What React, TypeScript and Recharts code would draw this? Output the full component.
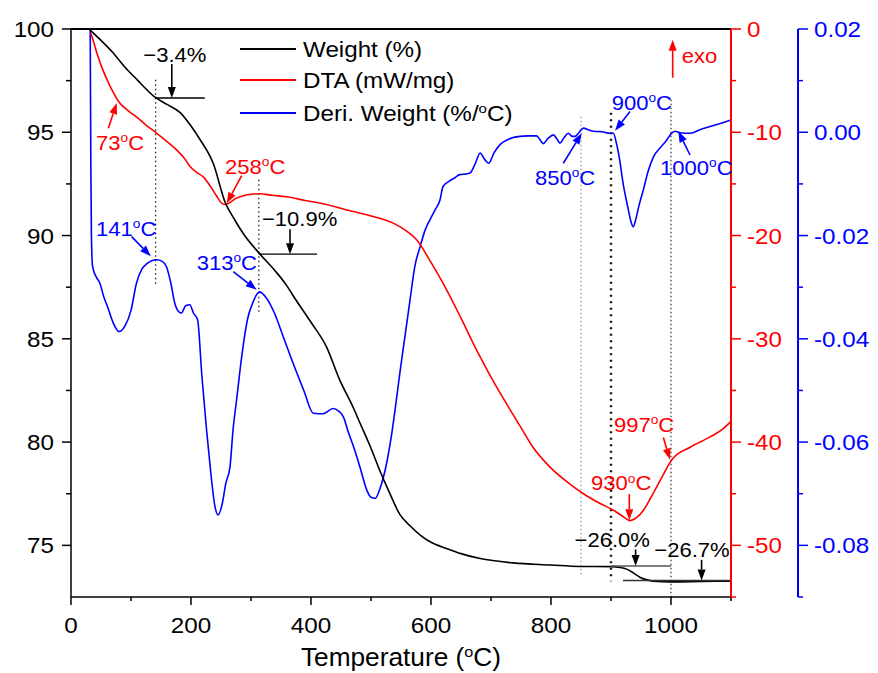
import React from 'react';
import { LineChart, Line, XAxis, YAxis, ReferenceLine, ReferenceDot, Legend, Label } from 'recharts';

// weight (%) – black curve, left axis
const tempW = [30, 50, 70, 90, 110, 140, 160, 182, 200, 215, 237, 257, 272, 287, 315, 340, 359, 370, 400, 426, 448, 470, 482, 500, 515, 530, 548, 565, 582, 600, 626, 650, 682, 737, 800, 848, 900, 915, 926, 937, 948, 960, 970, 1000, 1050, 1100];
const weight = [100.0, 99.45, 98.85, 98.15, 97.55, 96.7, 96.35, 95.95, 95.3, 94.65, 93.5, 91.6, 90.8, 90.1, 89.1, 88.3, 87.6, 87.1, 85.8, 84.6, 83.0, 81.7, 80.9, 79.7, 78.6, 77.6, 76.5, 75.95, 75.5, 75.15, 74.85, 74.6, 74.36, 74.15, 74.05, 73.98, 73.97, 73.93, 73.85, 73.67, 73.46, 73.33, 73.27, 73.23, 73.25, 73.27];

// DTA (mW/mg) – red curve, first right axis
const tempD = [33, 38, 43, 50, 60, 70, 79, 95, 109, 125, 143, 160, 176, 190, 198, 210, 220, 232, 243, 250, 257, 265, 275, 287, 300, 315, 335, 359, 390, 426, 465, 500, 537, 560, 576, 600, 620, 650, 676, 700, 726, 750, 770, 798, 830, 854, 882, 904, 920, 932, 943, 954, 968, 982, 1003, 1032, 1065, 1085, 1100];
const dta = [-0.4, -1.3, -2.3, -3.5, -4.9, -6.1, -7.0, -7.9, -8.5, -9.3, -10.1, -10.9, -11.7, -12.6, -13.3, -13.9, -14.3, -15.2, -16.2, -16.8, -17.0, -16.8, -16.4, -16.15, -16.0, -15.95, -16.1, -16.25, -16.6, -17.0, -17.6, -18.1, -18.8, -19.6, -20.4, -22.6, -24.6, -28.0, -31.1, -33.7, -36.3, -38.6, -40.5, -42.4, -44.0, -45.0, -45.95, -46.6, -47.2, -47.6, -47.3, -46.6, -45.2, -43.7, -41.6, -40.5, -39.5, -38.8, -38.0];

// derivative weight (%/°C) – blue curve, outer right axis
const tempB = [32, 33, 34, 36, 42, 48, 55, 60, 70, 80, 90, 100, 109, 118, 126, 143, 152, 159, 166, 173, 180, 184, 191, 198, 204, 211, 218, 226, 232, 240, 245, 252, 258, 265, 270, 276, 285, 294, 303, 314, 325, 339, 355, 370, 388, 404, 420, 437, 446, 454, 462, 471, 482, 493, 500, 507, 515, 526, 535, 543, 548, 556, 565, 573, 582, 590, 598, 607, 615, 620, 630, 640, 648, 657, 665, 674, 682, 689, 696, 705, 715, 730, 748, 762, 776, 782, 787, 795, 804, 810, 815, 822, 829, 835, 840, 847, 854, 862, 871, 885, 898, 904, 909, 914, 920, 928, 933, 937, 941, 946, 954, 962, 971, 982, 993, 1000, 1007, 1015, 1032, 1050, 1065, 1085, 1100];
const deriv = [0.02, -0.005, -0.02, -0.026, -0.028, -0.0292, -0.032, -0.0335, -0.0368, -0.0386, -0.0375, -0.0345, -0.0293, -0.0265, -0.0255, -0.0247, -0.025, -0.026, -0.029, -0.0331, -0.0348, -0.035, -0.0336, -0.0334, -0.035, -0.0363, -0.047, -0.0577, -0.0648, -0.0725, -0.0741, -0.072, -0.068, -0.0648, -0.0577, -0.0518, -0.043, -0.0363, -0.033, -0.0309, -0.032, -0.035, -0.040, -0.0447, -0.050, -0.0544, -0.0545, -0.0535, -0.054, -0.0551, -0.058, -0.0609, -0.065, -0.0693, -0.0707, -0.0709, -0.069, -0.0641, -0.058, -0.0512, -0.0467, -0.040, -0.0325, -0.026, -0.0221, -0.019, -0.017, -0.015, -0.0131, -0.0105, -0.0095, -0.0088, -0.0082, -0.0081, -0.0079, -0.006, -0.004, -0.0052, -0.006, -0.004, -0.0024, -0.0013, -0.0008, -0.0007, -0.0007, -0.0015, -0.0022, -0.0012, -0.0005, -0.0013, -0.0021, -0.001, -0.0002, -0.0008, -0.0008, 0.0, 0.0008, 0.0005, 0.0002, 0.0001, -0.0002, -0.0002, -0.0021, -0.005, -0.0098, -0.0145, -0.0172, -0.0183, -0.017, -0.0145, -0.0111, -0.0075, -0.0047, -0.003, -0.0015, -0.0003, 0.0002, -0.0001, -0.0002, 0.0006, 0.0011, 0.0018, 0.0024];

const seriesNames = ['Weight (%)', 'DTA (mW/mg)', 'Deri. Weight (%/'];

const xTicks = [0, 100, 200, 300, 400, 500, 600, 700, 800, 900, 1000, 1100];
const xMajor = [0, 200, 400, 600, 800, 1000];
const wTicks = [75, 77.5, 80, 82.5, 85, 87.5, 90, 92.5, 95, 97.5, 100];
const wMajor = [75, 80, 85, 90, 95, 100];
const dTicks = [-55, -50, -45, -40, -35, -30, -25, -20, -15, -10, -5, 0];
const dMajor = [-50, -40, -30, -20, -10, 0];
const bTicks = [-0.09, -0.08, -0.07, -0.06, -0.05, -0.04, -0.03, -0.02, -0.01, 0, 0.01, 0.02];
const bMajor = [-0.08, -0.06, -0.04, -0.02, 0, 0.02];

// weight-loss steps: level line, arrow and label (weight axis)
const steps = [
  { label: '−3.4%', level: 96.66, from: 140, to: 223, arrowT: 168, arrowTop: 98.3, textT: 173, textW: 98.4, color: '#000' },
  { label: '−10.9%', level: 89.1, from: 313, to: 410, arrowT: 365, arrowTop: 90.3, textT: 381, textW: 90.47, color: '#000' },
  { label: '−26.0%', level: 74.0, from: 900, to: 1000, arrowT: 941, arrowTop: 74.8, textT: 902, textW: 74.9, color: '#555' },
  { label: '−26.7%', level: 73.3, from: 920, to: 1100, arrowT: 1051, arrowTop: 74.3, textT: 1035, textW: 74.44, color: '#333' },
];

// dotted guides (weight axis)
const guides = [
  { t: 141, top: 97.54, bottom: 87.6, color: '#222', width: 1.3, dash: '1.5 3' },
  { t: 313, top: 92.7, bottom: 86.25, color: '#222', width: 1.3, dash: '1.5 3' },
  { t: 850, top: 95.75, bottom: 73.55, color: '#999', width: 1.2, dash: '1.5 2.5' },
  { t: 900, top: 95.94, bottom: 73.26, color: '#111', width: 2.4, dash: '2 4.5' },
  { t: 1000, top: 96.57, bottom: 72.5, color: '#333', width: 1.2, dash: '1.5 2.5' },
];

const redMarks = [
  { label: '73', textT: 41.7, textV: -11.7, fromT: 62.2, fromV: -9.6, toT: 76.2, toV: -7.17 },
  { label: '258', textT: 256.7, textV: -14.03, fromT: 284.5, fromV: -14.2, toT: 259.5, toV: -16.87 },
  { label: '930', textT: 866.7, textV: -44.66, fromT: 930.5, fromV: -45.05, toT: 930.5, toV: -47.57 },
  { label: '997', textT: 905, textV: -39.01, fromT: 987.2, fromV: -39.55, toT: 998.3, toV: -41.69 },
];

const blueMarks = [
  { label: '141', textT: 41.7, textV: -0.02, fromT: 101, fromV: -0.0202, toT: 133, toV: -0.024 },
  { label: '313', textT: 209.5, textV: -0.0266, fromT: 270.5, fromV: -0.027, toT: 309.5, toV: -0.0305 },
  { label: '850', textT: 773.3, textV: -0.0102, fromT: 820.5, fromV: -0.006, toT: 851.2, toV: -0.0002 },
  { label: '900', textT: 901.2, textV: 0.0044, fromT: 931.7, fromV: 0.004, toT: 906.7, toV: 0.0003 },
  { label: '1000', textT: 981.7, textV: -0.0082, fromT: 1031.7, fromV: -0.0044, toT: 1012.2, toV: 0.0002 },
];

const weightData = tempW.map((t, i) => ({ t, v: weight[i] }));
const dtaData = tempD.map((t, i) => ({ t, v: dta[i] }));
const derivData = tempB.map((t, i) => ({ t, v: deriv[i] }));

const FONT = '"Liberation Sans", Arial, Helvetica, sans-serif';
const RED = '#ff0000';
const BLUE = '#0000ff';
const AX_W = 'w';
const AX_D = 'a_dta';
const AX_B = 'b_deriv';

type TxtProps = { x: number; y: number; size: number; fill?: string; anchor?: 'start' | 'middle' | 'end'; sx?: number; children: React.ReactNode };

// the source font is a bit wider than Arial, so stretch it slightly
const Txt = ({ x, y, size, fill = '#000', anchor = 'start', sx = 1.1, children }: TxtProps) => (
  <text transform={`translate(${x},${y}) scale(${sx},1)`} x={0} y={0} fontSize={size} fontFamily={FONT} fill={fill} textAnchor={anchor}>
    {children}
  </text>
);

const deg = (pre: string, post: string, size: number) => [
  <tspan key="a">{pre}</tspan>,
  <tspan key="b" dy={-size * 0.36} fontSize={size * 0.62}>o</tspan>,
  <tspan key="c" dy={size * 0.36}>{post}</tspan>,
];

const isMajor = (v: number, list: number[]) => list.some((m) => Math.abs(m - v) < 1e-9);

const LeftTick = (p: any) => {
  const v = p.payload.value;
  const major = isMajor(v, wMajor);
  return (
    <g>
      <line x1={p.x - (major ? 9 : 5)} x2={p.x} y1={p.y} y2={p.y} stroke="#000" strokeWidth={1.5} />
      {major && <Txt x={p.x - 17} y={p.y + 8} size={22} anchor="end">{String(v)}</Txt>}
    </g>
  );
};

const BottomTick = (p: any) => {
  const v = p.payload.value;
  const major = isMajor(v, xMajor);
  return (
    <g>
      <line x1={p.x} x2={p.x} y1={p.y} y2={p.y + (major ? 8 : 4)} stroke="#000" strokeWidth={1.5} />
      {major && <Txt x={p.x} y={p.y + 36} size={22} anchor="middle">{String(v)}</Txt>}
    </g>
  );
};

const rightTick = (color: string, majors: number[], fmt: (v: number) => string) => (p: any) => {
  const v = p.payload.value;
  const major = isMajor(v, majors);
  return (
    <g>
      <line x1={p.x} x2={p.x + (major ? 10 : 5)} y1={p.y} y2={p.y} stroke={color} strokeWidth={1.5} />
      {major && <Txt x={p.x + 16} y={p.y + 8} size={22} fill={color}>{fmt(v)}</Txt>}
    </g>
  );
};

const arrowShape = (color: string) => (p: any) => {
  const { x1, y1, x2, y2 } = p;
  const ang = Math.atan2(y2 - y1, x2 - x1);
  const len = 11;
  const half = 4;
  const bx = x2 - len * Math.cos(ang);
  const by = y2 - len * Math.sin(ang);
  const px = -Math.sin(ang) * half;
  const py = Math.cos(ang) * half;
  return (
    <g>
      <line x1={x1} y1={y1} x2={bx} y2={by} stroke={color} strokeWidth={1.6} />
      <polygon points={`${x2},${y2} ${bx + px},${by + py} ${bx - px},${by - py}`} fill={color} />
    </g>
  );
};

const LegendBox = () => {
  const colors = ['#000', RED, BLUE];
  const rows = [19, 50, 83];
  return (
    <svg width={330} height={100} style={{ overflow: 'visible' }}>
      {seriesNames.map((name, i) => (
        <g key={name}>
          <line x1={4} x2={60} y1={rows[i]} y2={rows[i]} stroke={colors[i]} strokeWidth={1.8} />
          <Txt x={67} y={rows[i] + 8} size={22}>
            {i === 2 ? deg(name, 'C)', 22) : name}
          </Txt>
        </g>
      ))}
    </svg>
  );
};

const AxisTitle = (p: any) => {
  const vb = p.viewBox || { x: 71, y: 597, width: 660 };
  return (
    <Txt x={vb.x + vb.width / 2} y={vb.y + 69} size={25} sx={1.05} anchor="middle">
      {deg('Temperature (', 'C)', 25)}
    </Txt>
  );
};

const App = () => {
  return (
    <div style={{ position: 'absolute', left: 0, top: 0, width: 878, height: 673, background: '#fff' }}>
      <LineChart width={878} height={673} margin={{ top: 29, right: 0, bottom: 0, left: 0 }}>
        <XAxis
          dataKey="t"
          type="number"
          domain={[0, 1100]}
          ticks={xTicks}
          interval={0}
          height={76}
          tickSize={0}
          tickMargin={0}
          tickLine={false}
          tick={<BottomTick />}
          axisLine={{ stroke: '#000', strokeWidth: 1.5 }}
        >
          <Label content={AxisTitle} />
        </XAxis>
        <YAxis
          yAxisId={AX_W}
          orientation="left"
          width={71}
          domain={[72.5, 100]}
          ticks={wTicks}
          interval={0}
          allowDataOverflow
          tickSize={0}
          tickMargin={0}
          tickLine={false}
          tick={<LeftTick />}
          axisLine={{ stroke: '#000', strokeWidth: 1.5 }}
        />
        <YAxis
          yAxisId={AX_B}
          orientation="right"
          width={80}
          domain={[-0.09, 0.02]}
          ticks={bTicks}
          interval={0}
          allowDataOverflow
          tickSize={0}
          tickMargin={0}
          tickLine={false}
          tick={rightTick(BLUE, bMajor, (v) => v.toFixed(2))}
          axisLine={{ stroke: BLUE, strokeWidth: 2 }}
        />
        <YAxis
          yAxisId={AX_D}
          orientation="right"
          width={67}
          domain={[-55, 0]}
          ticks={dTicks}
          interval={0}
          allowDataOverflow
          tickSize={0}
          tickMargin={0}
          tickLine={false}
          tick={rightTick(RED, dMajor, (v) => String(v))}
          axisLine={{ stroke: RED, strokeWidth: 2 }}
        />

        <ReferenceLine yAxisId={AX_W} y={100} stroke="#000" strokeWidth={2} ifOverflow="visible" />

        {guides.map((g) => (
          <ReferenceLine
            key={`g${g.t}`}
            yAxisId={AX_W}
            segment={[{ x: g.t, y: g.top }, { x: g.t, y: g.bottom }]}
            stroke={g.color}
            strokeWidth={g.width}
            strokeDasharray={g.dash}
            ifOverflow="visible"
          />
        ))}

        <Line data={derivData} dataKey="v" name={seriesNames[2]} yAxisId={AX_B} type="monotone" stroke={BLUE} strokeWidth={1.6} dot={false} isAnimationActive={false} />
        <Line data={dtaData} dataKey="v" name={seriesNames[1]} yAxisId={AX_D} type="monotone" stroke={RED} strokeWidth={1.6} dot={false} isAnimationActive={false} />
        <Line data={weightData} dataKey="v" name={seriesNames[0]} yAxisId={AX_W} type="monotone" stroke="#000" strokeWidth={1.6} dot={false} isAnimationActive={false} />

        {steps.map((s) => (
          <ReferenceLine
            key={`s${s.label}`}
            yAxisId={AX_W}
            segment={[{ x: s.from, y: s.level }, { x: s.to, y: s.level }]}
            stroke={s.color}
            strokeWidth={1.4}
            ifOverflow="visible"
          />
        ))}
        {steps.map((s) => (
          <ReferenceLine
            key={`sa${s.label}`}
            yAxisId={AX_W}
            segment={[{ x: s.arrowT, y: s.arrowTop }, { x: s.arrowT, y: s.level }]}
            shape={arrowShape('#000')}
            ifOverflow="visible"
          />
        ))}
        {steps.map((s) => (
          <ReferenceDot
            key={`st${s.label}`}
            yAxisId={AX_W}
            x={s.textT}
            y={s.textW}
            r={0}
            ifOverflow="visible"
            shape={(p: any) => <Txt x={p.cx} y={p.cy} size={21} sx={1.05} anchor="middle">{s.label}</Txt>}
          />
        ))}

        {redMarks.map((m) => (
          <ReferenceLine
            key={`ra${m.label}`}
            yAxisId={AX_D}
            segment={[{ x: m.fromT, y: m.fromV }, { x: m.toT, y: m.toV }]}
            shape={arrowShape(RED)}
            ifOverflow="visible"
          />
        ))}
        {redMarks.map((m) => (
          <ReferenceDot
            key={`rt${m.label}`}
            yAxisId={AX_D}
            x={m.textT}
            y={m.textV}
            r={0}
            ifOverflow="visible"
            shape={(p: any) => <Txt x={p.cx} y={p.cy} size={21} sx={1.05} fill={RED}>{deg(m.label, 'C', 21)}</Txt>}
          />
        ))}

        {blueMarks.map((m) => (
          <ReferenceLine
            key={`ba${m.label}`}
            yAxisId={AX_B}
            segment={[{ x: m.fromT, y: m.fromV }, { x: m.toT, y: m.toV }]}
            shape={arrowShape(BLUE)}
            ifOverflow="visible"
          />
        ))}
        {blueMarks.map((m) => (
          <ReferenceDot
            key={`bt${m.label}`}
            yAxisId={AX_B}
            x={m.textT}
            y={m.textV}
            r={0}
            ifOverflow="visible"
            shape={(p: any) => <Txt x={p.cx} y={p.cy} size={21} sx={1.05} fill={BLUE}>{deg(m.label, 'C', 21)}</Txt>}
          />
        ))}

        {/* exothermic direction */}
        <ReferenceLine
          yAxisId={AX_D}
          segment={[{ x: 1002.8, y: -4.72 }, { x: 1002.8, y: -1.04 }]}
          shape={arrowShape(RED)}
          ifOverflow="visible"
        />
        <ReferenceDot
          yAxisId={AX_D}
          x={1017.8}
          y={-3.3}
          r={0}
          ifOverflow="visible"
          shape={(p: any) => <Txt x={p.cx} y={p.cy} size={21} sx={1.05} fill={RED}>exo</Txt>}
        />

        <Legend
          layout="vertical"
          align="center"
          verticalAlign="middle"
          wrapperStyle={{ left: 236, top: 30, width: 330, height: 100 }}
          content={() => <LegendBox />}
        />
      </LineChart>
    </div>
  );
};

export default App;
